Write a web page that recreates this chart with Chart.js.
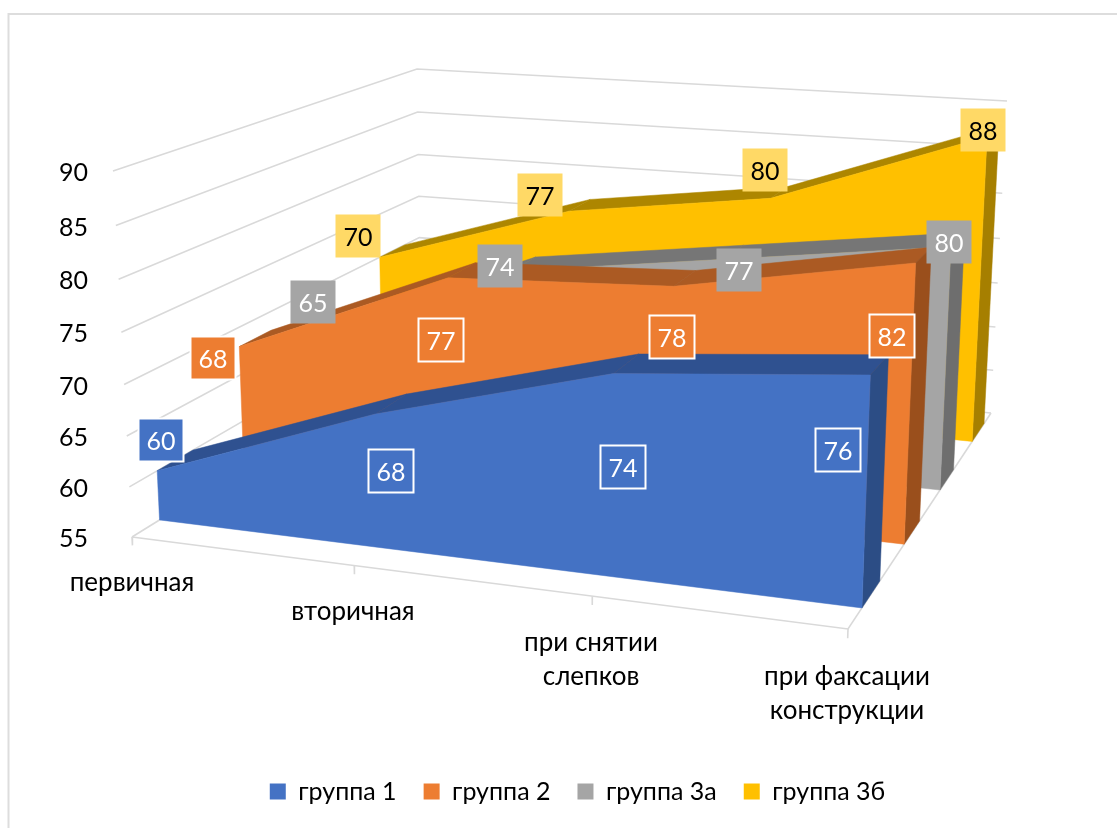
<!DOCTYPE html>
<html lang="ru"><head><meta charset="utf-8">
<style>html,body{margin:0;padding:0;background:#fff}#w{width:1117px;height:828px;position:relative}</style>
<script src="https://cdn.jsdelivr.net/npm/chart.js@4"></script>
</head><body><div id="w"><canvas id="c" width="1117" height="828"></canvas></div>
<script>
// ---- data ----
const categories = [['первичная'], ['вторичная'], ['при снятии', 'слепков'], ['при факсации', 'конструкции']];
const seriesNames = ['группа 1', 'группа 2', 'группа 3а', 'группа 3б'];
const group1 = [60, 68, 74, 76];
const group2 = [68, 77, 78, 82];
const group3a = [65, 74, 77, 80];
const group3b = [70, 77, 80, 88];
const valueMin = 55, valueMax = 90, valueStep = 5;

// ---- styles ----
const frontColors = ['#4472C4', '#ED7D31', '#A5A5A5', '#FFC000'];
const topColors = ['#2F5190', '#AB5A23', '#767676', '#AD8600'];
const sideColors = ['#2C4D85', '#9A4F1C', '#6E6E6E', '#A67F00'];
const labelFill = ['#4472C4', '#ED7D31', '#A5A5A5', '#FFD966'];
const labelText = ['#fff', '#fff', '#fff', '#000'];
const labelBorder = ['#fff', '#fff', null, null];
const gridColor = '#D9D9D9';
const FONT = 'Lato, "Open Sans", sans-serif';
// label box centres (layout of the callouts, per series / category)
const labelCenters = [
  [[161, 440], [391, 471], [623, 467], [838, 450]],
  [[213, 358], [441, 340], [672, 337], [892, 336]],
  [[313, 302], [500, 266], [739, 270], [949, 242]],
  [[358, 236], [540, 195], [765, 170], [983, 130]]
];
const categoryLabelPos = [[132, 583], [353, 612], [591, 643], [847, 677]];

// ---- 3-D box calibration: screen corners of the chart's floor and top plane ----
const floorQuad = [[132, 537], [848, 629], [991, 413], [421, 358]];
const topQuad = [[113, 171], [862, 224], [1007, 101], [417, 69]];
const seriesFront = [0.076, 0.33, 0.579, 0.834], seriesDepth = 0.103, vertK = 0.05;

function homography(q) {
  const [[x0, y0], [x1, y1], [x2, y2], [x3, y3]] = q;
  const dx1 = x1 - x2, dx2 = x3 - x2, sx = x0 - x1 + x2 - x3;
  const dy1 = y1 - y2, dy2 = y3 - y2, sy = y0 - y1 + y2 - y3;
  const det = dx1 * dy2 - dx2 * dy1;
  const g = (sx * dy2 - dx2 * sy) / det, h = (dx1 * sy - sx * dy1) / det;
  const a = x1 - x0 + g * x1, b = x3 - x0 + h * x3, d = y1 - y0 + g * y1, e = y3 - y0 + h * y3;
  return (u, v) => { const w = g * u + h * v + 1; return [(a * u + b * v + x0) / w, (d * u + e * v + y0) / w]; };
}
const hFloor = homography(floorQuad), hTop = homography(topQuad);
function projectT(a, b, t) {
  const f = hFloor(a, b), p = hTop(a, b), tt = t / (1 + vertK - vertK * t);
  return { x: f[0] + (p[0] - f[0]) * tt, y: f[1] + (p[1] - f[1]) * tt };
}
const tOf = v => (v - valueMin) / (valueMax - valueMin);
const project = (a, b, v) => projectT(a, b, tOf(v));

// ---- datasets, back to front ----
const list = [];
const poly = (data, color) => list.push({ data, polygon: color, showLine: false, pointRadius: 0, clip: false, xAxisID: 'xs', yAxisID: 'ys' });
const line = (data) => list.push({ data, showLine: true, fill: false, borderColor: gridColor, borderWidth: 1.6, pointRadius: 0, clip: false, xAxisID: 'xs', yAxisID: 'ys' });

for (let v = valueMin; v <= valueMax; v += valueStep) {
  line([project(0, 0, v), project(0, 1, v), project(1, 1, v)]);
}
line([project(0, 0, valueMin), project(1, 0, valueMin), project(1, 1, valueMin)]);
categories.forEach((_, i) => line([project(i / 3, 0, valueMin), projectT(i / 3, 0, -0.024)]));

const allSeries = [group1, group2, group3a, group3b];
for (let s = allSeries.length - 1; s >= 0; s--) {
  const vals = allSeries[s], b0 = seriesFront[s], b1 = b0 + seriesDepth, n = vals.length;
  for (let i = 0; i < n - 1; i++) {
    poly([project(i / 3, b0, vals[i]), project(i / 3, b1, vals[i]), project((i + 1) / 3, b1, vals[i + 1]), project((i + 1) / 3, b0, vals[i + 1])], topColors[s]);
  }
  poly([project(1, b0, valueMin), project(1, b1, valueMin), project(1, b1, vals[n - 1]), project(1, b0, vals[n - 1])], sideColors[s]);
  const front = [project(0, b0, valueMin), project(1, b0, valueMin)];
  for (let i = n - 1; i >= 0; i--) front.push(project(i / 3, b0, vals[i]));
  poly(front, frontColors[s]);
}
list.forEach((d, i) => { d.order = list.length - i; });

const scene = {
  id: 'scene',
  afterLayout(chart) {
    // the two hidden mark scales run in canvas units, over the laid-out plot area
    const area = chart.chartArea, sx = chart.scales.xs, sy = chart.scales.ys;
    sx.min = area.left; sx.max = area.right; sx.configure();
    sy.min = area.top; sy.max = area.bottom; sy.configure();
  },
  beforeDraw(chart) {
    const c = chart.ctx;
    c.save(); c.fillStyle = '#fff'; c.fillRect(0, 0, 1117, 828);
    c.strokeStyle = '#DDDDDD'; c.lineWidth = 2;
    c.beginPath(); c.moveTo(8.5, 828); c.lineTo(8.5, 14); c.lineTo(1117, 14); c.stroke(); c.restore();
  },
  beforeDatasetDraw(chart, args) {
    const ds = chart.data.datasets[args.index];
    if (!ds.polygon) return;
    const c = chart.ctx, pts = args.meta.data;
    c.save(); c.beginPath();
    pts.forEach((p, i) => i ? c.lineTo(p.x, p.y) : c.moveTo(p.x, p.y));
    c.closePath(); c.fillStyle = ds.polygon; c.strokeStyle = ds.polygon; c.lineWidth = 0.5;
    c.fill(); c.stroke(); c.restore();
  },
  afterDatasetsDraw(chart) {
    const c = chart.ctx;
    c.save(); c.textAlign = 'center'; c.textBaseline = 'middle';
    c.font = '26px ' + FONT; c.fillStyle = '#000';
    categories.forEach((lines, i) => lines.forEach((t, j) => c.fillText(t, categoryLabelPos[i][0], categoryLabelPos[i][1] + j * 34)));
    c.font = '25px ' + FONT;
    allSeries.forEach((vals, s) => vals.forEach((v, i) => {
      const [x, y] = labelCenters[s][i], W = 45, H = 43;
      c.fillStyle = labelFill[s];
      c.fillRect(x - W / 2, y - H / 2, W, H);
      if (labelBorder[s]) { c.strokeStyle = labelBorder[s]; c.lineWidth = 2; c.strokeRect(x - W / 2, y - H / 2, W, H); }
      c.fillStyle = labelText[s];
      c.fillText(String(v), x, y + 1.5);
    }));
    c.restore();
  }
};

new Chart(document.getElementById('c'), {
  type: 'scatter',
  data: { datasets: list },
  plugins: [scene],
  options: {
    responsive: false, animation: false, events: [],
    layout: { padding: { left: 38, right: 0, top: 0, bottom: 14 } },
    scales: {
      xs: { type: 'linear', position: 'bottom', display: false, bounds: 'data' },
      ys: { type: 'linear', position: 'left', display: false, bounds: 'data', reverse: true },
      yv: { type: 'linear', position: 'left', min: valueMin, max: valueMax, bounds: 'data',
        grid: { display: false, drawTicks: false }, border: { display: false },
        ticks: { stepSize: valueStep, autoSkip: false, padding: 12, color: '#000', font: { family: FONT, size: 25 } },
        afterFit(s) {
          s.width = 62; s.paddingTop = 0; s.paddingBottom = 0;
          s.getPixelForValue = v => project(0, 0, v).y + 2;
        } }
    },
    plugins: {
      tooltip: { enabled: false },
      legend: {
        position: 'bottom',
        labels: {
          boxWidth: 16, boxHeight: 16, padding: 27, color: '#000', font: { family: FONT, size: 25 },
          generateLabels: () => seriesNames.map((t, i) => ({ text: t, fillStyle: frontColors[i], strokeStyle: frontColors[i], lineWidth: 0, hidden: false, fontColor: '#000' }))
        }
      }
    }
  }
});
</script></body></html>
